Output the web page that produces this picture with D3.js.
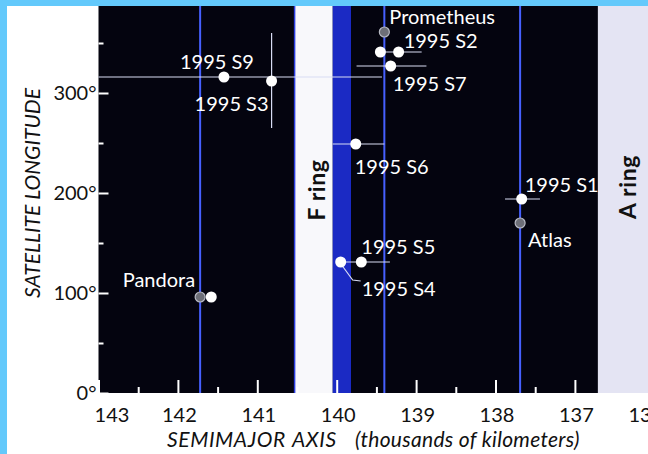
<!DOCTYPE html>
<html>
<head>
<meta charset="utf-8">
<script src="https://cdn.jsdelivr.net/npm/d3@7"></script>
<style>
  body { margin: 0; background: #fff; }
  svg { display: block; font-family: Lato, "Open Sans", sans-serif; }
</style>
</head>
<body>
<div id="chart"></div>
<script>
// Saturn's small inner satellites seen at the 1995 ring-plane crossing.
// Axis values are thousands of km, longitudes in degrees.

const xTicks = [143, 142, 141, 140, 139, 138, 137, 136];
const xMinorTicks = [142.5, 141.5, 140.5, 139.5, 138.5, 137.5];
const yTicks = [0, 100, 200, 300, 400];
const yMinorTicks = [50, 150, 250, 350];

// known moons (grey markers) and their orbits
const moonNames = ["Pandora", "Prometheus", "Atlas"];
const moonAxis = [141.72, 139.40, 137.69];
const moonLon = [96, 361, 170];

// 1995 objects (white markers); "" = unlabelled sighting
const objNames = ["", "1995 S9", "1995 S3", "", "1995 S2", "1995 S7", "1995 S6", "1995 S1", "1995 S5", "1995 S4"];
const objAxis = [141.58, 141.42, 140.82, 139.45, 139.22, 139.32, 139.76, 137.67, 139.69, 139.95];
const objLon = [96, 316, 312, 341, 341, 327, 249, 194, 131, 131];

// uncertainty bars: horizontal [from, to, lon], vertical [axis, lon0, lon1]
const hBars = [[143.0, 139.43, 316], [139.45, 138.93, 341], [139.75, 138.87, 327],
               [140.05, 139.40, 249], [137.88, 137.44, 194], [139.95, 139.33, 131]];
const vBars = [[140.82, 265, 360]];

// ring edges
const fRingWhite = [140.53, 140.05];
const fRingBlue = [140.05, 139.82];
const aRingInner = 136.71;

// label placement (offset from marker, px)
const LABEL_POS = {
  "Pandora": { dx: -5, dy: -10, anchor: "end" },
  "Prometheus": { dx: 5, dy: -8, anchor: "start" },
  "Atlas": { dx: 8, dy: 24, anchor: "start" },
  "1995 S9": { dx: -44, dy: -8, anchor: "start" },
  "1995 S3": { dx: -3, dy: 30, anchor: "end" },
  "1995 S2": { dx: 5, dy: -4, anchor: "start" },
  "1995 S7": { dx: 2, dy: 25, anchor: "start" },
  "1995 S6": { dx: -1, dy: 30, anchor: "start" },
  "1995 S1": { dx: 3, dy: -7, anchor: "start" },
  "1995 S5": { dx: 0, dy: -8, anchor: "start" },
  "1995 S4": { dx: 21, dy: 34, anchor: "start" },
};

const W = 648, H = 454;
const PLOT = { left: 98.5, top: 6, bottom: 393 };
const BORDER = "#63c9fb";
const ORBIT = "#4660ff";

const x = d3.scaleLinear().domain([143, 136]).range([PLOT.left, 654.3]);
const y = d3.scaleLinear().domain([0, 400]).range([PLOT.bottom, -7]);

const svg = d3.select("#chart").append("svg")
  .attr("width", W).attr("height", H)
  .attr("viewBox", `0 0 ${W} ${H}`);

svg.append("rect").attr("width", W).attr("height", H).attr("fill", "#fff");

// ─── plot background + rings ─────────────────────────────────────────
svg.append("rect")
  .attr("x", x(143)).attr("y", PLOT.top)
  .attr("width", x(aRingInner) - x(143)).attr("height", PLOT.bottom - PLOT.top)
  .attr("fill", "#04040f");

svg.append("rect")
  .attr("x", x(aRingInner)).attr("y", PLOT.top)
  .attr("width", W - x(aRingInner)).attr("height", PLOT.bottom - PLOT.top)
  .attr("fill", "#e4e4f3");

svg.append("rect")
  .attr("x", x(fRingWhite[0])).attr("y", PLOT.top)
  .attr("width", x(fRingWhite[1]) - x(fRingWhite[0])).attr("height", PLOT.bottom - PLOT.top)
  .attr("fill", "#f8f8fb");

svg.append("rect")
  .attr("x", x(fRingBlue[0])).attr("y", PLOT.top)
  .attr("width", x(fRingBlue[1]) - x(fRingBlue[0])).attr("height", PLOT.bottom - PLOT.top)
  .attr("fill", "#1b2ac4");

svg.append("line")
  .attr("x1", x(fRingWhite[0])).attr("x2", x(fRingWhite[0]))
  .attr("y1", PLOT.top).attr("y2", PLOT.bottom)
  .attr("stroke", "#2c3ee0").attr("stroke-width", 1.5);

// baseline sits at `a`, text reads bottom-to-top
const ringLabels = [
  { text: "F ring", a: 140.15, lon: 203 },
  { text: "A ring", a: 136.23, lon: 206 },
];
svg.selectAll("text.ring")
  .data(ringLabels)
  .join("text")
  .attr("class", "ring")
  .attr("transform", (d) => `translate(${x(d.a)},${y(d.lon)}) rotate(-90)`)
  .attr("text-anchor", "middle")
  .attr("font-size", 23)
  .attr("font-weight", 700)
  .attr("letter-spacing", 0.6)
  .attr("fill", "#111")
  .text((d) => d.text);

// ─── orbits ──────────────────────────────────────────────────────────
svg.selectAll("line.orbit")
  .data(moonAxis)
  .join("line")
  .attr("class", "orbit")
  .attr("x1", (d) => x(d)).attr("x2", (d) => x(d))
  .attr("y1", PLOT.top).attr("y2", PLOT.bottom)
  .attr("stroke", ORBIT).attr("stroke-width", 2);

// ─── axes (ticks point inward) ───────────────────────────────────────
const yAxis = svg.append("g")
  .attr("transform", `translate(${PLOT.left},0)`)
  .call(d3.axisLeft(y).tickValues(yTicks).tickSize(-10).tickPadding(2)
    .tickFormat((d) => `${d}°`));
yAxis.select(".domain").remove();
yAxis.selectAll(".tick line").attr("stroke", "#fff").attr("stroke-width", 2);
yAxis.selectAll(".tick text")
  .attr("font-size", 20).attr("fill", "#111")
  .attr("font-family", "Lato, sans-serif");

const yMinor = svg.append("g")
  .attr("transform", `translate(${PLOT.left},0)`)
  .call(d3.axisLeft(y).tickValues(yMinorTicks).tickSize(-5).tickFormat(""));
yMinor.select(".domain").remove();
yMinor.selectAll(".tick line").attr("stroke", "#fff").attr("stroke-width", 2);

const xAxis = svg.append("g")
  .attr("transform", `translate(0,${PLOT.bottom})`)
  .call(d3.axisBottom(x).tickValues(xTicks).tickSize(-13).tickPadding(15)
    .tickFormat(d3.format("d")));
xAxis.select(".domain").remove();
xAxis.selectAll(".tick line").attr("stroke", "#fff").attr("stroke-width", 2);
xAxis.selectAll(".tick text")
  .attr("font-size", 20).attr("fill", "#111")
  .attr("font-family", "Lato, sans-serif")
  .attr("dx", (d) => (d === 143 ? 13 : d === 136 ? -9 : 1));

const xMinor = svg.append("g")
  .attr("transform", `translate(0,${PLOT.bottom})`)
  .call(d3.axisBottom(x).tickValues(xMinorTicks).tickSize(-6).tickFormat(""));
xMinor.select(".domain").remove();
xMinor.selectAll(".tick line").attr("stroke", "#fff").attr("stroke-width", 2);

// ─── uncertainty bars ────────────────────────────────────────────────
svg.selectAll("line.hbar")
  .data(hBars)
  .join("line")
  .attr("class", "hbar")
  .attr("x1", (d) => x(d[0])).attr("x2", (d) => x(d[1]))
  .attr("y1", (d) => y(d[2])).attr("y2", (d) => y(d[2]))
  .attr("stroke", "#d8dcf4").attr("stroke-width", 1.2);

svg.selectAll("line.vbar")
  .data(vBars)
  .join("line")
  .attr("class", "vbar")
  .attr("x1", (d) => x(d[0])).attr("x2", (d) => x(d[0]))
  .attr("y1", (d) => y(d[1])).attr("y2", (d) => y(d[2]))
  .attr("stroke", "#d8dcf4").attr("stroke-width", 1.2);

// leader from S4 marker to its label
const s4 = objNames.indexOf("1995 S4");
const s4x = x(objAxis[s4]), s4y = y(objLon[s4]);
svg.append("path")
  .attr("d", `M${s4x + 1},${s4y + 3} L${s4x + 12},${s4y + 18} L${s4x + 20},${s4y + 19}`)
  .attr("fill", "none").attr("stroke", "#d8dcf4").attr("stroke-width", 1.2);

// ─── markers ─────────────────────────────────────────────────────────
const moons = moonNames.map((name, i) => ({ name, a: moonAxis[i], lon: moonLon[i] }));
const objs = objNames.map((name, i) => ({ name, a: objAxis[i], lon: objLon[i] }));

svg.selectAll("circle.moon")
  .data(moons)
  .join("circle")
  .attr("class", "moon")
  .attr("cx", (d) => x(d.a)).attr("cy", (d) => y(d.lon))
  .attr("r", 5)
  .attr("fill", "#6d6f78").attr("stroke", "#b8bac4").attr("stroke-width", 1.2);

svg.selectAll("circle.obj")
  .data(objs)
  .join("circle")
  .attr("class", "obj")
  .attr("cx", (d) => x(d.a)).attr("cy", (d) => y(d.lon))
  .attr("r", 5.5)
  .attr("fill", "#fff");

svg.selectAll("text.sat")
  .data(moons.concat(objs).filter((d) => d.name))
  .join("text")
  .attr("class", "sat")
  .attr("x", (d) => x(d.a) + LABEL_POS[d.name].dx)
  .attr("y", (d) => y(d.lon) + LABEL_POS[d.name].dy)
  .attr("text-anchor", (d) => LABEL_POS[d.name].anchor)
  .attr("font-size", 20)
  .attr("fill", "#fff")
  .text((d) => d.name);

// ─── axis titles ─────────────────────────────────────────────────────
svg.append("text")
  .attr("transform", `translate(40,${y(200)}) rotate(-90)`)
  .attr("text-anchor", "middle")
  .attr("font-size", 21)
  .attr("font-style", "italic")
  .attr("fill", "#111")
  .text("SATELLITE LONGITUDE");

const xTitle = svg.append("text")
  .attr("y", 447)
  .attr("font-size", 21)
  .attr("font-style", "italic")
  .attr("fill", "#111");
xTitle.append("tspan").attr("x", 167).attr("letter-spacing", 0.6).text("SEMIMAJOR");
xTitle.append("tspan").attr("x", 292).attr("letter-spacing", 0.6).text("AXIS");
xTitle.append("tspan").attr("x", 355).attr("letter-spacing", 0.3).text("(thousands of kilometers)");

// ─── page border bands ───────────────────────────────────────────────
svg.append("rect").attr("x", 0).attr("y", 0).attr("width", W).attr("height", 6).attr("fill", BORDER);
svg.append("rect").attr("x", 0).attr("y", 0).attr("width", 7).attr("height", H).attr("fill", BORDER);
</script>
</body>
</html>
